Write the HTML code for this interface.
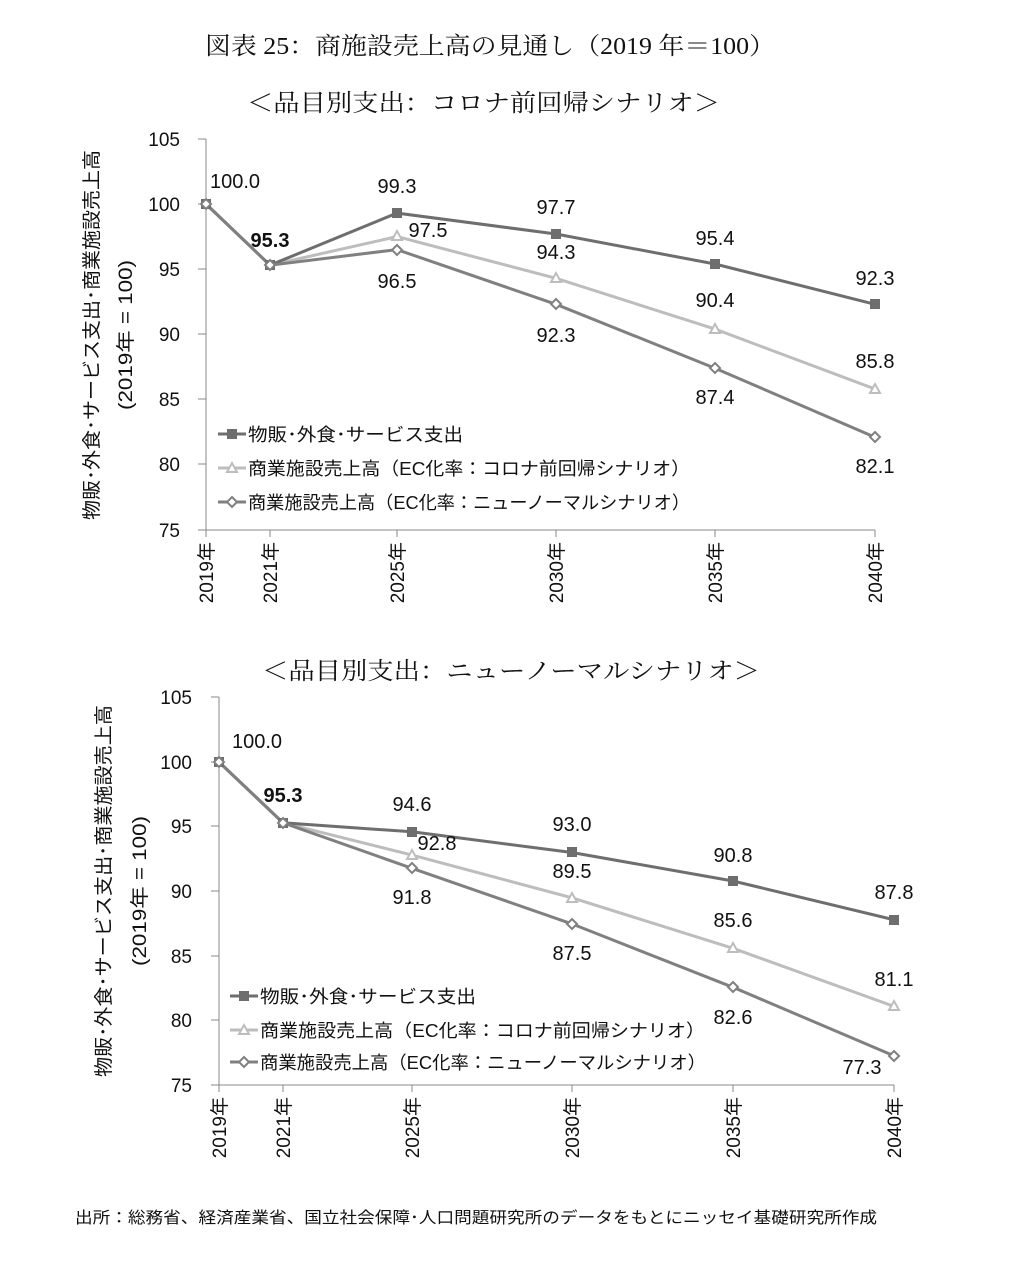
<!DOCTYPE html>
<html><head><meta charset="utf-8"><style>
body{margin:0;background:#fff;}
svg{display:block}
text{font-family:"Liberation Sans","Noto Sans CJK JP",sans-serif;fill:#111}
.s{font-family:"Liberation Serif","Noto Serif CJK SC",serif}
.v{font-size:20px;text-anchor:middle}
.t{font-size:19px;text-anchor:end}
.l{font-size:18px}
</style></head><body>
<svg width="1023" height="1268" viewBox="0 0 1023 1268">
<text class="s" x="205" y="54" font-size="24" textLength="570" lengthAdjust="spacingAndGlyphs">図表 25：商施設売上高の見通し（2019 年＝100）</text>
<text class="s" x="247" y="111" font-size="24" textLength="473" lengthAdjust="spacingAndGlyphs">＜品目別支出：コロナ前回帰シナリオ＞</text>
<text class="s" x="262" y="679" font-size="24" textLength="498" lengthAdjust="spacingAndGlyphs">＜品目別支出：ニューノーマルシナリオ＞</text>

<!-- chart 1 -->
<g stroke="#888" stroke-width="1">
<line x1="206" y1="139" x2="206" y2="530"/>
<line x1="206" y1="530" x2="875" y2="530"/>
<line x1="198" y1="139" x2="206" y2="139"/><line x1="198" y1="204" x2="206" y2="204"/><line x1="198" y1="269" x2="206" y2="269"/><line x1="198" y1="334" x2="206" y2="334"/><line x1="198" y1="399" x2="206" y2="399"/><line x1="198" y1="464" x2="206" y2="464"/><line x1="198" y1="530" x2="206" y2="530"/>
<line x1="270" y1="530" x2="270" y2="537"/><line x1="397" y1="530" x2="397" y2="537"/><line x1="556" y1="530" x2="556" y2="537"/><line x1="715" y1="530" x2="715" y2="537"/><line x1="875" y1="530" x2="875" y2="537"/><line x1="206" y1="530" x2="206" y2="537"/>
</g>
<g class="t"><text x="180" y="146">105</text><text x="180" y="211">100</text><text x="180" y="276">95</text><text x="180" y="341">90</text><text x="180" y="406">85</text><text x="180" y="471">80</text><text x="180" y="537">75</text></g>
<g font-size="19" text-anchor="end">
<text transform="translate(213,542) rotate(-90)">2019年</text>
<text transform="translate(277,542) rotate(-90)">2021年</text>
<text transform="translate(404,542) rotate(-90)">2025年</text>
<text transform="translate(563,542) rotate(-90)">2030年</text>
<text transform="translate(722,542) rotate(-90)">2035年</text>
<text transform="translate(882,542) rotate(-90)">2040年</text>
</g>
<g font-size="19">
<text transform="translate(98,520) rotate(-90)" textLength="370" lengthAdjust="spacingAndGlyphs">物販･外食･サービス支出･商業施設売上高</text>
<text transform="translate(132,410) rotate(-90)" textLength="150" lengthAdjust="spacingAndGlyphs">(2019年 = 100)</text>
</g>
<polyline fill="none" stroke="#bdbdbd" stroke-width="3" points="206,204 270,265.2 397,236.6 556,278.3 715,329.1 875,389"/>
<polyline fill="none" stroke="#6e6e6e" stroke-width="3" points="206,204 270,265.2 397,213.1 556,234 715,264 875,304.3"/>
<polyline fill="none" stroke="#808080" stroke-width="3" points="206,204 270,265.2 397,249.6 556,304.3 715,368.2 875,437.2"/>
<g fill="#6e6e6e"><rect x="201" y="199" width="10" height="10"/><rect x="265" y="260" width="10" height="10"/><rect x="392" y="208" width="10" height="10"/><rect x="551" y="229" width="10" height="10"/><rect x="710" y="259" width="10" height="10"/><rect x="870" y="299" width="10" height="10"/></g>
<g fill="#fff" stroke="#bdbdbd" stroke-width="2"><path d="M397,231 l5,9 h-10z"/><path d="M556,273 l5,9 h-10z"/><path d="M715,324 l5,9 h-10z"/><path d="M875,384 l5,9 h-10z"/></g>
<g fill="#fff" stroke="#808080" stroke-width="2"><path d="M206,199 l5,5 l-5,5 l-5,-5z"/><path d="M270,260 l5,5 l-5,5 l-5,-5z"/><path d="M397,245 l5,5 l-5,5 l-5,-5z"/><path d="M556,299 l5,5 l-5,5 l-5,-5z"/><path d="M715,363 l5,5 l-5,5 l-5,-5z"/><path d="M875,432 l5,5 l-5,5 l-5,-5z"/></g>
<g class="v">
<text x="235" y="188">100.0</text><text x="270" y="247" font-weight="600">95.3</text><text x="397" y="193">99.3</text><text x="428" y="237">97.5</text><text x="397" y="288">96.5</text>
<text x="556" y="214">97.7</text><text x="556" y="259">94.3</text><text x="556" y="342">92.3</text>
<text x="715" y="245">95.4</text><text x="715" y="307">90.4</text><text x="715" y="404">87.4</text>
<text x="875" y="285">92.3</text><text x="875" y="368">85.8</text><text x="875" y="473">82.1</text>
</g>
<line x1="218" y1="434" x2="246" y2="434" stroke="#6e6e6e" stroke-width="3"/><rect x="227" y="429" width="10" height="10" fill="#6e6e6e"/>
<line x1="218" y1="468" x2="246" y2="468" stroke="#bdbdbd" stroke-width="3"/><path d="M232,463 l5,9 h-10z" fill="#fff" stroke="#bdbdbd" stroke-width="2"/>
<line x1="218" y1="502" x2="246" y2="502" stroke="#808080" stroke-width="3"/><path d="M232,497 l5,5 l-5,5 l-5,-5z" fill="#fff" stroke="#808080" stroke-width="2"/>
<g class="l"><text x="248" y="441" textLength="215" lengthAdjust="spacingAndGlyphs">物販･外食･サービス支出</text><text x="248" y="475" textLength="442" lengthAdjust="spacingAndGlyphs">商業施設売上高（EC化率：コロナ前回帰シナリオ）</text><text x="248" y="509" textLength="442" lengthAdjust="spacingAndGlyphs">商業施設売上高（EC化率：ニューノーマルシナリオ）</text></g>

<!-- chart 2 -->
<g stroke="#888" stroke-width="1">
<line x1="219" y1="697" x2="219" y2="1085"/>
<line x1="219" y1="1085" x2="894" y2="1085"/>
<line x1="211" y1="697" x2="219" y2="697"/><line x1="211" y1="762" x2="219" y2="762"/><line x1="211" y1="826" x2="219" y2="826"/><line x1="211" y1="891" x2="219" y2="891"/><line x1="211" y1="956" x2="219" y2="956"/><line x1="211" y1="1020" x2="219" y2="1020"/><line x1="211" y1="1085" x2="219" y2="1085"/>
<line x1="219" y1="1085" x2="219" y2="1092"/><line x1="283" y1="1085" x2="283" y2="1092"/><line x1="412" y1="1085" x2="412" y2="1092"/><line x1="572" y1="1085" x2="572" y2="1092"/><line x1="733" y1="1085" x2="733" y2="1092"/><line x1="894" y1="1085" x2="894" y2="1092"/>
</g>
<g class="t"><text x="192" y="704">105</text><text x="192" y="769">100</text><text x="192" y="833">95</text><text x="192" y="898">90</text><text x="192" y="963">85</text><text x="192" y="1027">80</text><text x="192" y="1092">75</text></g>
<g font-size="19" text-anchor="end">
<text transform="translate(226,1097) rotate(-90)">2019年</text>
<text transform="translate(290,1097) rotate(-90)">2021年</text>
<text transform="translate(419,1097) rotate(-90)">2025年</text>
<text transform="translate(579,1097) rotate(-90)">2030年</text>
<text transform="translate(740,1097) rotate(-90)">2035年</text>
<text transform="translate(901,1097) rotate(-90)">2040年</text>
</g>
<g font-size="19">
<text transform="translate(110,1077) rotate(-90)" textLength="372" lengthAdjust="spacingAndGlyphs">物販･外食･サービス支出･商業施設売上高</text>
<text transform="translate(146,966) rotate(-90)" textLength="150" lengthAdjust="spacingAndGlyphs">(2019年 = 100)</text>
</g>
<polyline fill="none" stroke="#bdbdbd" stroke-width="3" points="219,762 283,822.8 412,855.1 572,897.8 733,948.3 894,1006.4"/>
<polyline fill="none" stroke="#6e6e6e" stroke-width="3" points="219,762 283,822.8 412,831.8 572,852.5 733,881 894,919.8"/>
<polyline fill="none" stroke="#808080" stroke-width="3" points="219,762 283,822.8 412,868.3 572,923.9 733,987.3 894,1055.8"/>
<g fill="#6e6e6e"><rect x="214" y="757" width="10" height="10"/><rect x="278" y="818" width="10" height="10"/><rect x="407" y="827" width="10" height="10"/><rect x="567" y="847" width="10" height="10"/><rect x="728" y="876" width="10" height="10"/><rect x="889" y="915" width="10" height="10"/></g>
<g fill="#fff" stroke="#bdbdbd" stroke-width="2"><path d="M412,850 l5,9 h-10z"/><path d="M572,893 l5,9 h-10z"/><path d="M733,943 l5,9 h-10z"/><path d="M894,1001 l5,9 h-10z"/></g>
<g fill="#fff" stroke="#808080" stroke-width="2"><path d="M219,757 l5,5 l-5,5 l-5,-5z"/><path d="M283,818 l5,5 l-5,5 l-5,-5z"/><path d="M412,863 l5,5 l-5,5 l-5,-5z"/><path d="M572,919 l5,5 l-5,5 l-5,-5z"/><path d="M733,982 l5,5 l-5,5 l-5,-5z"/><path d="M894,1051 l5,5 l-5,5 l-5,-5z"/></g>
<g class="v">
<text x="257" y="748">100.0</text><text x="283" y="802" font-weight="600">95.3</text><text x="412" y="811">94.6</text><text x="437" y="850">92.8</text><text x="412" y="904">91.8</text>
<text x="572" y="831">93.0</text><text x="572" y="878">89.5</text><text x="572" y="960">87.5</text>
<text x="733" y="862">90.8</text><text x="733" y="927">85.6</text><text x="733" y="1024">82.6</text>
<text x="894" y="899">87.8</text><text x="894" y="986">81.1</text><text x="862" y="1074">77.3</text>
</g>
<line x1="230" y1="996" x2="258" y2="996" stroke="#6e6e6e" stroke-width="3"/><rect x="239" y="991" width="10" height="10" fill="#6e6e6e"/>
<line x1="230" y1="1030" x2="258" y2="1030" stroke="#bdbdbd" stroke-width="3"/><path d="M244,1025 l5,9 h-10z" fill="#fff" stroke="#bdbdbd" stroke-width="2"/>
<line x1="230" y1="1062" x2="258" y2="1062" stroke="#808080" stroke-width="3"/><path d="M244,1057 l5,5 l-5,5 l-5,-5z" fill="#fff" stroke="#808080" stroke-width="2"/>
<g class="l"><text x="260" y="1003" textLength="216" lengthAdjust="spacingAndGlyphs">物販･外食･サービス支出</text><text x="260" y="1037" textLength="445" lengthAdjust="spacingAndGlyphs">商業施設売上高（EC化率：コロナ前回帰シナリオ）</text><text x="260" y="1069" textLength="446" lengthAdjust="spacingAndGlyphs">商業施設売上高（EC化率：ニューノーマルシナリオ）</text></g>

<text x="75" y="1223" font-size="16" textLength="802" lengthAdjust="spacingAndGlyphs">出所：総務省、経済産業省、国立社会保障･人口問題研究所のデータをもとにニッセイ基礎研究所作成</text>
</svg>
</body></html>
